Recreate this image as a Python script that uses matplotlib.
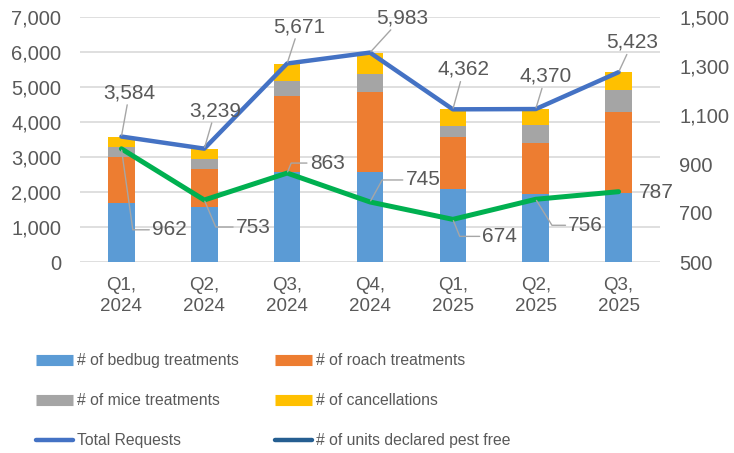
import matplotlib
matplotlib.use("Agg")
import matplotlib.pyplot as plt
from matplotlib.lines import Line2D
import numpy as np

plt.rcParams['font.family'] = ['Liberation Sans', 'DejaVu Sans']

quarters = ["Q1,\n2024", "Q2,\n2024", "Q3,\n2024", "Q4,\n2024", "Q1,\n2025", "Q2,\n2025", "Q3,\n2025"]
bedbug = [1680, 1560, 2560, 2580, 2090, 1930, 1980]
roach = [1330, 1105, 2190, 2290, 1475, 1480, 2295]
mice = [270, 285, 430, 510, 315, 515, 640]
cancellations = [304, 289, 491, 603, 482, 445, 508]
total_requests = [3584, 3239, 5671, 5983, 4362, 4370, 5423]
pest_free = [962, 753, 863, 745, 674, 756, 787]

# label offsets (pixels) and leader angles
total_offsets = [(8, 44), (11, 38), (12, 37), (32, 35), (11, 40), (10, 33), (14, 30)]
pf_offsets = [(48, -81), (49, -27), (40, 10), (53, 22), (47, -17), (50, -26), (38, -1)]
pf_angles = [-82, -67, 68, 61, -68, -58, None]

TXT = "#595959"
C_BED, C_ROACH, C_MICE, C_CANC = "#5B9BD5", "#ED7D31", "#A5A5A5", "#FFC000"
C_TOTAL, C_PF, C_PF_LEG = "#4472C4", "#00B050", "#255E91"

fig = plt.figure(figsize=(7.34, 4.53), dpi=100)
ax = fig.add_axes([80/734, 1-262/453, 580/734, 245/453])
ax2 = ax.twinx()

x = np.arange(len(quarters))
w = 0.32
b = np.zeros(len(x))
for vals, col in [(bedbug, C_BED), (roach, C_ROACH), (mice, C_MICE), (cancellations, C_CANC)]:
    ax.bar(x, vals, w, bottom=b, color=col, zorder=2)
    b = b + np.array(vals)

ax.plot(x, total_requests, color=C_TOTAL, lw=3.2, zorder=3, solid_capstyle='round')
ax2.plot(x, pest_free, color=C_PF, lw=3.6, zorder=3, solid_capstyle='round')

ax.set_xlim(-0.5, len(x)-0.5)
ax.set_ylim(0, 7000)
ax2.set_ylim(500, 1500)
ax.set_yticks(np.arange(0, 7001, 1000))
ax2.set_yticks(np.arange(500, 1501, 200))
fmt = matplotlib.ticker.FuncFormatter(lambda v, p: f"{int(v):,}")
ax.yaxis.set_major_formatter(fmt)
ax2.yaxis.set_major_formatter(fmt)
ax.set_xticks(x)
ax.set_xticklabels(quarters, linespacing=1.25)
ax.grid(axis='y', color='#D9D9D9', lw=1.2, zorder=0)
ax.set_axisbelow(True)
for a in (ax, ax2):
    for s in a.spines.values():
        s.set_visible(False)
ax.tick_params(axis='y', length=0, pad=13.5, labelsize=14.5, labelcolor=TXT)
ax.tick_params(axis='x', length=0, pad=11, labelsize=13.5, labelcolor=TXT)
ax2.tick_params(axis='y', length=0, pad=14, labelsize=14.5, labelcolor=TXT)
ax2.set_zorder(ax.get_zorder()+1)
ax2.patch.set_visible(False)

for i, v in enumerate(total_requests):
    ax.annotate(f"{v:,}", (x[i], v), xytext=total_offsets[i], textcoords='offset pixels',
                ha='center', va='center', fontsize=15, color=TXT,
                arrowprops=dict(arrowstyle='-', color='#A6A6A6', lw=1, shrinkA=0, shrinkB=1))

for i, v in enumerate(pf_offsets):
    val = pest_free[i]
    ang = pf_angles[i]
    ap = None
    if ang is not None:
        ap = dict(arrowstyle='-', color='#A6A6A6', lw=1, shrinkA=0, shrinkB=1,
                  connectionstyle=f"angle,angleA=0,angleB={ang},rad=0")
    ax2.annotate(f"{val:,}", (x[i], val), xytext=v, textcoords='offset pixels',
                 ha='center', va='center', fontsize=15, color=TXT, arrowprops=ap)

handles = [
    Line2D([], [], color=C_BED, lw=8, solid_capstyle='butt'),
    Line2D([], [], color=C_MICE, lw=8, solid_capstyle='butt'),
    Line2D([], [], color=C_TOTAL, lw=3.2, solid_capstyle='round'),
    Line2D([], [], color=C_ROACH, lw=8, solid_capstyle='butt'),
    Line2D([], [], color=C_CANC, lw=8, solid_capstyle='butt'),
    Line2D([], [], color=C_PF_LEG, lw=3.2, solid_capstyle='round'),
]
labels = ["# of bedbug treatments", "# of mice treatments", "Total Requests",
          "# of roach treatments", "# of cancellations", "# of units declared pest free"]
leg = fig.legend(handles, labels, loc='upper left', bbox_to_anchor=(36/734, 1-353/453),
                 ncol=2, frameon=False, fontsize=11.3, handlelength=2.35, handletextpad=0.25,
                 columnspacing=2.3, labelspacing=1.6, borderpad=0, borderaxespad=0)
for t in leg.get_texts():
    t.set_color(TXT)

fig.savefig("out.png", dpi=100)
